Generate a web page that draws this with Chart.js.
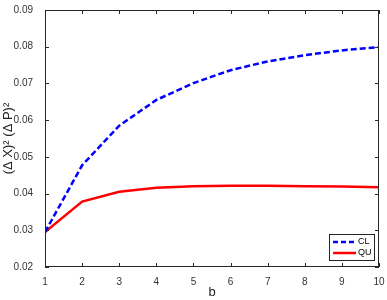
<!DOCTYPE html>
<html>
<head>
<meta charset="utf-8">
<script src="https://cdn.jsdelivr.net/npm/chart.js@4.4.1/dist/chart.umd.min.js"></script>
<style>
  html, body { margin: 0; padding: 0; background: #fff; }
  #wrap { width: 387px; height: 300px; }
</style>
</head>
<body>
<div id="wrap"><canvas id="chart" width="387" height="300"></canvas></div>
<script>
const bVals = [1, 2, 3, 4, 5, 6, 7, 8, 9, 10];
const clVals = [0.0295, 0.0477, 0.0585, 0.0655, 0.0701, 0.0736, 0.0760, 0.0777, 0.0790, 0.0799];
const quVals = [0.0295, 0.0378, 0.0405, 0.0416, 0.0420, 0.0421, 0.0421, 0.0420, 0.0419, 0.0417];
const yTicks = [0.02, 0.03, 0.04, 0.05, 0.06, 0.07, 0.08, 0.09];

const axisColor = "#262626";
const fontFam = "'Liberation Sans', Arial, sans-serif";

// box around plot with inward ticks, plus the legend box
const boxPlugin = {
  id: "box",
  afterDatasetsDraw(chart) {
    const c = chart.ctx, a = chart.chartArea;
    const xs = chart.scales.x, ys = chart.scales.y;
    c.save();
    c.strokeStyle = axisColor;
    c.lineWidth = 1;
    c.strokeRect(a.left + 0.5, a.top + 0.5, a.right - a.left - 1, a.bottom - a.top - 1);
    c.beginPath();
    bVals.forEach(v => {
      const px = Math.round(xs.getPixelForValue(v)) + 0.5;
      c.moveTo(px, a.bottom); c.lineTo(px, a.bottom - 4);
      c.moveTo(px, a.top); c.lineTo(px, a.top + 4);
    });
    yTicks.forEach(v => {
      const py = Math.round(ys.getPixelForValue(v)) + 0.5;
      c.moveTo(a.left, py); c.lineTo(a.left + 4, py);
      c.moveTo(a.right, py); c.lineTo(a.right - 4, py);
    });
    c.stroke();

    // legend
    const lx = 329, ly = 234, lw = 45, lh = 26;
    c.fillStyle = "#fff";
    c.fillRect(lx, ly, lw, lh);
    c.strokeRect(lx + 0.5, ly + 0.5, lw, lh);
    c.lineWidth = 2.5;
    c.strokeStyle = "#0000ff";
    c.setLineDash([5, 3]);
    c.beginPath(); c.moveTo(lx + 4, ly + 8); c.lineTo(lx + 27, ly + 8); c.stroke();
    c.setLineDash([]);
    c.strokeStyle = "#ff0000";
    c.beginPath(); c.moveTo(lx + 4, ly + 19); c.lineTo(lx + 27, ly + 19); c.stroke();
    c.fillStyle = "#000";
    c.font = "9px " + fontFam;
    c.textBaseline = "middle";
    c.fillText("CL", lx + 29, ly + 8);
    c.fillText("QU", lx + 29, ly + 19);
    c.restore();
  }
};

new Chart(document.getElementById("chart").getContext("2d"), {
  type: "line",
  data: {
    datasets: [
      {
        label: "CL",
        data: bVals.map((b, i) => ({ x: b, y: clVals[i] })),
        borderColor: "#0000ff",
        borderWidth: 2.5,
        borderDash: [6, 3],
        pointRadius: 0,
        fill: false,
        tension: 0
      },
      {
        label: "QU",
        data: bVals.map((b, i) => ({ x: b, y: quVals[i] })),
        borderColor: "#ff0000",
        borderWidth: 2.5,
        pointRadius: 0,
        fill: false,
        tension: 0
      }
    ]
  },
  options: {
    responsive: false,
    animation: false,
    layout: { padding: { top: 5, right: 8, left: 0, bottom: 0 } },
    plugins: { legend: { display: false }, tooltip: { enabled: false } },
    scales: {
      x: {
        type: "linear",
        min: 1, max: 10,
        afterBuildTicks: s => { s.ticks = bVals.map(v => ({ value: v })); },
        afterFit: s => { s.height = 33; },
        grid: { display: false },
        border: { display: false },
        ticks: {
          color: "#333",
          font: { family: fontFam, size: 10 },
          padding: 1,
          maxRotation: 0
        },
        title: {
          display: true,
          text: "b",
          color: "#222",
          font: { family: fontFam, size: 13 },
          padding: { top: 2, bottom: 0 }
        }
      },
      y: {
        min: 0.02, max: 0.09,
        afterBuildTicks: s => { s.ticks = yTicks.map(v => ({ value: v })); },
        afterFit: s => { s.width = 45; },
        grid: { display: false },
        border: { display: false },
        ticks: {
          color: "#333",
          font: { family: fontFam, size: 10 },
          padding: 4,
          callback: v => v.toFixed(2)
        },
        title: {
          display: true,
          text: "(\u0394 X)\u00b2 (\u0394 P)\u00b2",
          color: "#222",
          font: { family: fontFam, size: 13 },
          padding: { top: 1, bottom: 0 }
        }
      }
    }
  },
  plugins: [boxPlugin]
});
</script>
</body>
</html>
